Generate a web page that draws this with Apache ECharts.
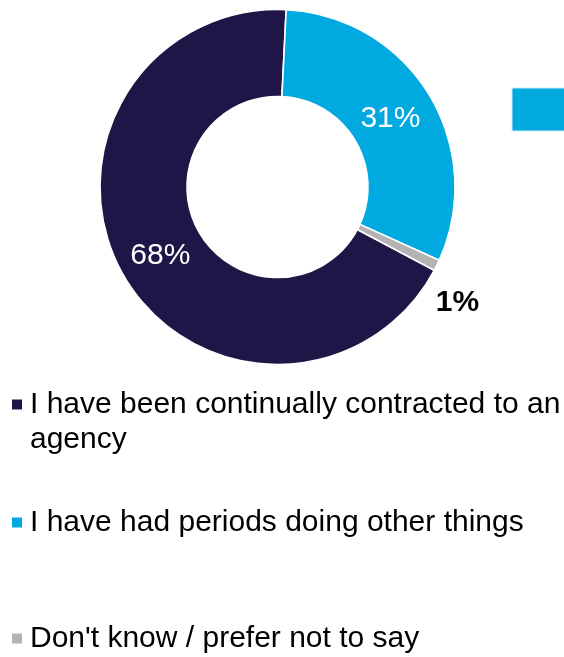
<!DOCTYPE html>
<html>
<head>
<meta charset="utf-8">
<title>Agency contract history</title>
<script src="https://cdn.jsdelivr.net/npm/echarts@6/dist/echarts.min.js"></script>
<style>
  html, body { margin: 0; padding: 0; background: #fff; }
  #chart { width: 564px; height: 657px; }
</style>
</head>
<body>
<div id="chart"></div>
<script>
// Answer categories and their shares (%)
const categories = [
  'I have been continually contracted to an agency',
  'I have had periods doing other things',
  "Don't know / prefer not to say"
];
const shares = [68, 31, 1];
const colors = ['#201547', '#00A9E0', '#B3B3B3'];

// Legend text with manual line breaks
const legendText = {
  [categories[0]]: 'I have been continually contracted to an\nagency'
};

// Nudges for the value labels (px)
const labelShift = [
  { dx: 2, dy: 1 },
  { dx: -4, dy: 3 },
  { dx: 57, dy: 55 }
];

const FONT = 'Liberation Sans, Arial, Helvetica, sans-serif';

const chart = echarts.init(document.getElementById('chart'), null, { renderer: 'canvas' });

const legendBase = {
  orient: 'vertical',
  left: 10,
  padding: 0,
  icon: 'rect',
  itemWidth: 12,
  itemHeight: 12,
  selectedMode: false,
  textStyle: {
    fontFamily: FONT,
    fontSize: 30,
    lineHeight: 35,
    color: '#000',
    padding: [0, 0, 0, 2]
  }
};

chart.setOption({
  backgroundColor: '#fff',
  animation: false,
  color: colors,
  legend: [
    Object.assign({}, legendBase, {
      top: 352,
      data: [categories[0]],
      // leading blank line keeps the marker level with the first text line
      formatter: name => '\n' + (legendText[name] || name)
    }),
    Object.assign({}, legendBase, { top: 505, data: [categories[1]] }),
    Object.assign({}, legendBase, { top: 621, data: [categories[2]] })
  ],
  graphic: [{
    type: 'rect',
    shape: { x: 512, y: 88, width: 60, height: 43 },
    style: { fill: '#00A9E0', stroke: '#CBEBF8', lineWidth: 1 },
    silent: true
  }],
  series: [{
    type: 'pie',
    center: [277.5, 187],
    radius: [90.5, 177.5],
    startAngle: -28,
    clockwise: true,
    avoidLabelOverlap: false,
    itemStyle: { borderColor: '#fff', borderWidth: 1.6 },
    label: {
      show: true,
      position: 'inside',
      formatter: '{c}%',
      fontFamily: FONT,
      fontSize: 30,
      color: '#fff'
    },
    labelLine: { show: false },
    emphasis: { disabled: true },
    labelLayout: function (params) {
      return labelShift[params.dataIndex] || {};
    },
    data: categories.map((name, i) => {
      const item = { name: name, value: shares[i] };
      if (i === 2) {
        item.label = { color: '#000', fontWeight: 'bold' };
      }
      return item;
    })
  }]
});
</script>
</body>
</html>
